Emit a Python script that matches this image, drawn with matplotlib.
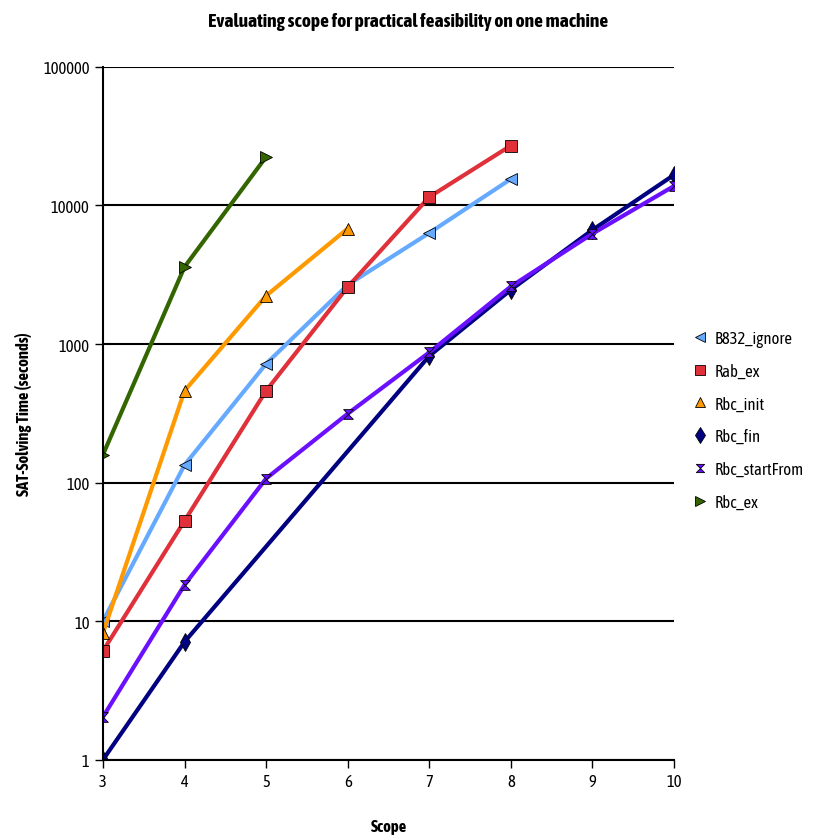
import numpy as np
import matplotlib
matplotlib.use('Agg')
from matplotlib import pyplot as plt
from matplotlib.path import Path
from matplotlib.lines import Line2D

# scope values per series
b832_x = [3, 4, 5, 6, 7, 8]
b832_y = [10, 134, 720, 2670, 6330, 15500]
rab_x = [3, 4, 5, 6, 7, 8]
rab_y = [6.1, 53, 460, 2580, 11500, 27000]
init_x = [3, 4, 5, 6]
init_y = [8.2, 460, 2230, 6800]
fin_x = [3, 4, 7, 8, 9, 10]
fin_y = [1, 7.1, 820, 2460, 6650, 16600]
start_x = [3, 4, 5, 6, 7, 8, 9, 10]
start_y = [2.04, 18.3, 107, 314, 870, 2600, 6250, 13800]
ex_x = [3, 4, 5]
ex_y = [159, 3600, 22400]

names = ['B832_ignore', 'Rab_ex', 'Rbc_init', 'Rbc_fin', 'Rbc_startFrom', 'Rbc_ex']
colors = ['#66aaff', '#e0303a', '#ff9900', '#000080', '#6a10ff', '#336600']

hourglass = Path([(-1, 1), (1, 1), (-1, -1), (1, -1), (-1, 1)],
                 [Path.MOVETO, Path.LINETO, Path.LINETO, Path.LINETO, Path.CLOSEPOLY])
markers = ['<', 's', '^', 'd', hourglass, '>']
sizes = [8, 8, 8, 9, 7, 8]

plt.rcParams['font.family'] = ['Asap Condensed', 'DejaVu Sans']

fig = plt.figure(figsize=(8.17, 8.37), dpi=100)
ax = fig.add_axes([0.126, 0.091, 0.699, 0.828])

series = [(b832_x, b832_y), (rab_x, rab_y), (init_x, init_y),
          (fin_x, fin_y), (start_x, start_y), (ex_x, ex_y)]
handles = []
for (x, y), n, c, m, s in zip(series, names, colors, markers, sizes):
    ax.plot(x, y, color=c, lw=3, marker=m, markersize=s,
            markerfacecolor=c, markeredgecolor='black', markeredgewidth=0.6)
    handles.append(Line2D([], [], ls='none', marker=m, markersize=s * 0.85,
                          markerfacecolor=c, markeredgecolor='black',
                          markeredgewidth=0.6, label=n))

ax.set_yscale('log')
ax.set_ylim(1, 100000)
ax.set_xlim(3, 10)
ax.set_yticks([1, 10, 100, 1000, 10000, 100000])
ax.set_yticklabels(['1', '10', '100', '1000', '10000', '100000'])
ax.yaxis.set_minor_locator(matplotlib.ticker.NullLocator())
ax.set_xticks(range(3, 11))
ax.grid(axis='y', which='major', color='black', lw=1.5)
ax.set_axisbelow(True)
for sp in ['top', 'right']:
    ax.spines[sp].set_visible(False)
ax.spines['left'].set_linewidth(1.5)
ax.spines['bottom'].set_linewidth(1.5)
ax.tick_params(direction='out', length=6, width=1, labelsize=12, colors='black')

ax.set_xlabel('Scope', fontsize=12, fontweight='bold', labelpad=20)
ax.set_ylabel('SAT-Solving Time (seconds)', fontsize=12, fontweight='bold', labelpad=8)
fig.suptitle('Evaluating scope for practical feasibility on one machine',
             fontsize=14, fontweight='bold', y=0.985)

ax.legend(handles=handles, loc='center left', bbox_to_anchor=(1.01, 0.49),
          frameon=False, fontsize=12, handlelength=0.6, handletextpad=0.6,
          labelspacing=0.95)

fig.savefig('out.png', dpi=100)
